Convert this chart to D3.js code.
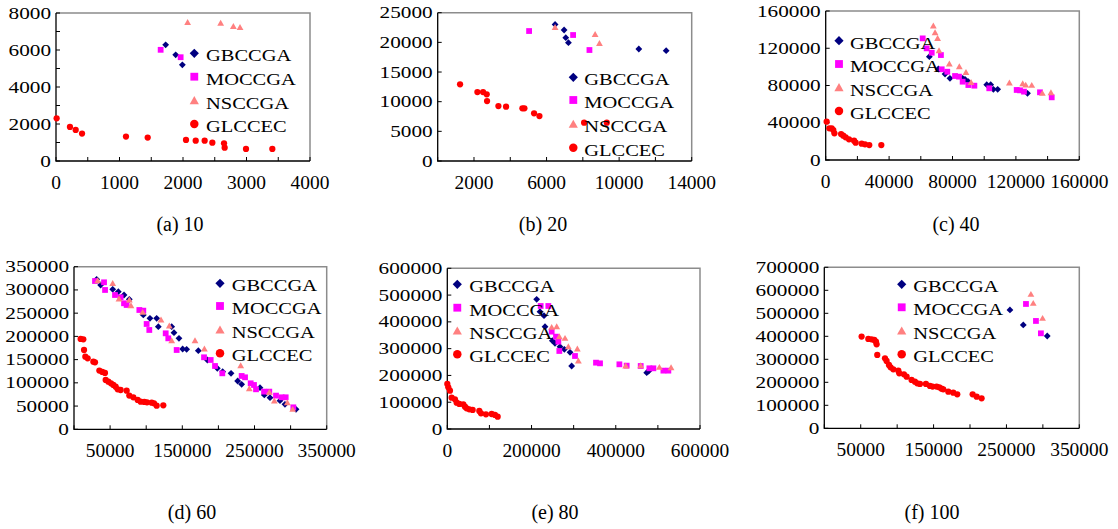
<!DOCTYPE html>
<html><head><meta charset="utf-8">
<script src="https://cdn.jsdelivr.net/npm/d3@7/dist/d3.min.js"></script>
<style>body{margin:0;background:#fff}svg{display:block}</style>
</head><body>
<svg id="chart" width="1118" height="529"></svg>
<script>
// ---------- DATA ----------
const seriesNames = ["GBCCGA","MOCCGA","NSCCGA","GLCCEC"];
const panelCaptions = ["(a) 10","(b) 20","(c) 40","(d) 60","(e) 80","(f) 100"];

// (a) 10
const a_GBCCGA = [[1727,6280],[1885,5740],[1990,5200]];
const a_MOCCGA = [[1648,6010],[1963,5610]];
const a_NSCCGA = [[2073,7490],[2593,7455],[2793,7274],[2898,7220]];
const a_GLCCEC = [[10,2310],[220,1840],[310,1680],[410,1480],[1102,1318],[1444,1264],[2047,1137],[2200,1101],[2341,1101],[2462,993],[2646,957],[2656,722],[2992,650],[3407,650]];
// (b) 20
const b_GBCCGA = [[6470,23030],[6967,22080],[7059,20790],[7206,19940],[11085,18880],[12592,18600]];
const b_MOCCGA = [[5037,21910],[7463,21240],[8364,18710]];
const b_NSCCGA = [[6470,22530],[8676,21350],[8915,19830]];
const b_GLCCEC = [[1232,12920],[2188,11630],[2500,11630],[2702,11240],[2720,10110],[3346,9270],[3768,9160],[4669,8880],[4779,8880],[5312,8030],[5607,7580],[8070,6460],[9320,6460]];
// (c) 40
const c_GBCCGA = [[65400,111000],[71100,97700],[75300,92300],[78400,87700],[86400,87700],[87900,86600],[90000,84100],[101600,80900],[104100,80900],[105800,75900],[108500,75900],[127300,71600]];
const c_MOCCGA = [[61200,130600],[63700,119900],[66900,115200],[72700,112700],[73200,97400],[76700,94800],[81600,90200],[84100,89500],[86400,84100],[90000,80500],[93800,79800],[103200,77000],[120500,75200],[122600,74800],[125100,73400],[135200,72700],[142600,67300]];
const c_NSCCGA = [[67900,143900],[69000,136700],[70600,130600],[71500,117400],[78000,103100],[84300,100200],[88500,94100],[91700,83400],[115900,82700],[124300,82000],[126200,80500],[130000,80200],[136700,71600],[142100,72300]];
const c_GLCCEC = [[600,41200],[2300,34000],[3800,34000],[4800,32200],[5500,28600],[9700,27900],[11100,26100],[12600,24300],[14700,22200],[17900,20800],[18900,18600],[22700,17500],[24800,16800],[27500,16100],[35100,16100]];
// (d) 60
const d_GBCCGA = [[31400,322800],[36900,310600],[53600,301300],[61400,296300],[69300,289100],[76600,279800],[96000,246100],[105200,238900],[114500,238900],[116800,221000],[135300,221000],[138500,208000],[145400,195800],[150500,172900],[156000,172200],[172200,169300],[184700,149200],[198500,131300],[205900,124100],[217500,120500],[226700,104000],[232200,96800],[257600,89700],[263600,73900],[271500,68100],[285300,61700],[292200,53800],[307500,43000]];
const d_MOCCGA = [[29100,319200],[41600,316400],[43000,299900],[56800,289100],[64600,284100],[69300,271200],[72900,267600],[90500,256800],[96000,255400],[100600,226700],[104300,213800],[127000,206600],[130600,195800],[142200,170700],[180100,155000],[189300,149200],[195300,136300],[205400,120500],[232200,114800],[236900,111900],[244700,99000],[249300,95400],[252100,86100],[263200,81100],[270500,81100],[279800,72500],[287600,68900],[293200,68900],[303800,47300]];
const d_NSCCGA = [[32800,319900],[53600,314200],[62300,280500],[76600,278300],[78900,266100],[95100,251800],[120500,235300],[132000,222400],[135300,190800],[167600,190800],[180600,172900],[230900,137000],[242800,87500],[270500,79600],[277500,61000],[295500,57400],[302900,43000]];
const d_GLCCEC = [[9200,194400],[12900,193700],[13900,170700],[15700,156400],[18900,152800],[26800,145600],[29100,144200],[35100,126300],[39200,123400],[42900,121200],[43900,106200],[47600,102600],[51200,99000],[54500,95400],[57700,91800],[60500,86100],[64600,84600],[72900,83200],[76600,72500],[82200,68900],[88200,63100],[92300,59500],[97400,58800],[101100,58100],[107600,57400],[110800,56000],[114500,50900],[123700,51600]];
// (e) 80
const e_GBCCGA = [[212200,484300],[220100,438200],[229600,423300],[232000,382200],[249400,329900],[255700,319900],[267600,307500],[277900,297500],[291400,286300],[295300,235300],[473500,210400],[478000,216000]];
const e_MOCCGA = [[221700,459300],[239900,459300],[247800,363500],[258100,344800],[263700,326200],[266000,291300],[303200,272600],[353100,247700],[362600,245200],[408600,241500],[425900,236500],[459200,235300],[479800,226600],[489300,226600],[513100,217900],[524900,217900]];
const e_NSCCGA = [[247800,379700],[259700,382200],[266000,344800],[279500,338600],[287400,307500],[308800,298800],[311200,254000],[423600,235300],[459200,236500],[503600,230300],[531300,229100]];
const e_GLCCEC = [[0,168100],[2400,155600],[6300,143200],[10300,117000],[18200,110800],[22200,98300],[28500,93400],[38000,92100],[42000,83400],[45900,77200],[52300,73400],[60200,71000],[76000,67200],[80000,58500],[91800,54800],[105300,56000],[113200,52300],[119600,46100]];
// (f) 100
const f_GBCCGA = [[254800,514500],[273100,449300],[306000,401400]];
const f_MOCCGA = [[276800,540600],[290500,466700],[297300,413000]];
const f_NSCCGA = [[283600,582600],[286800,543500],[299600,478300]];
const f_GLCCEC = [[51200,398600],[60400,388400],[64900,387000],[68600,384100],[70900,376800],[71800,365200],[72700,318800],[83300,304300],[85500,292800],[88700,275400],[91000,265200],[94700,256500],[101600,250700],[102900,239100],[109300,234800],[113000,224600],[119800,210100],[124400,202900],[127600,195700],[131300,192800],[139500,192800],[145000,184100],[148700,181200],[154200,181200],[157800,178300],[161000,172500],[163300,169600],[170200,159400],[177000,155100],[182500,147800],[203600,147800],[209100,137700],[215900,130400]];

// tick labels / ticks
const a_xLabels = [0,1000,2000,3000,4000], a_xTicks = d3.range(0,4001,500);
const a_yLabels = [0,2000,4000,6000,8000], a_yTicks = d3.range(0,8001,1000);
const b_xLabels = [2000,6000,10000,14000], b_xTicks = d3.range(0,14001,2000);
const b_yLabels = [0,5000,10000,15000,20000,25000], b_yTicks = b_yLabels;
const c_xLabels = [0,40000,80000,120000,160000], c_xTicks = d3.range(0,160001,20000);
const c_yLabels = [0,40000,80000,120000,160000], c_yTicks = c_yLabels;
const d_xLabels = [50000,150000,250000,350000], d_xTicks = d3.range(0,350001,50000);
const d_yLabels = d3.range(0,350001,50000), d_yTicks = d_yLabels;
const e_xLabels = [0,200000,400000,600000], e_xTicks = d3.range(0,600001,100000);
const e_yLabels = d3.range(0,600001,100000), e_yTicks = e_yLabels;
const f_xLabels = [50000,150000,250000,350000], f_xTicks = d3.range(0,350001,50000);
const f_yLabels = d3.range(0,700001,100000), f_yTicks = f_yLabels;

// ---------- LAYOUT ----------
const colors = {GBCCGA:"#000080", MOCCGA:"#ff00ff", NSCCGA:"#ff8080", GLCCEC:"#ff0000"};
const shapes = {GBCCGA:"diamond", MOCCGA:"square", NSCCGA:"triangle", GLCCEC:"circle"};

const panels = [
 {series:[a_GBCCGA,a_MOCCGA,a_NSCCGA,a_GLCCEC], xmax:4000, ymax:8000, xl:a_xLabels, xt:a_xTicks, yl:a_yLabels, yt:a_yTicks,
  L:56,R:310,T:13,B:161, leg:{mx:194.3, tx:206, rows:[53.3,76.7,100.7,124]}, cap:[180,231]},
 {series:[b_GBCCGA,b_MOCCGA,b_NSCCGA,b_GLCCEC], xmax:14000, ymax:25000, xl:b_xLabels, xt:b_xTicks, yl:b_yLabels, yt:b_yTicks,
  L:437.7,R:691.7,T:12.7,B:161, leg:{mx:573.3, tx:584.3, rows:[77.3,100,124.3,147.7]}, cap:[543,231]},
 {series:[c_GBCCGA,c_MOCCGA,c_NSCCGA,c_GLCCEC], xmax:160000, ymax:160000, xl:c_xLabels, xt:c_xTicks, yl:c_yLabels, yt:c_yTicks,
  L:825.7,R:1079.3,T:11,B:160, leg:{mx:839, tx:850, rows:[40.7,64,87.7,111]}, cap:[956,231]},
 {series:[d_GBCCGA,d_MOCCGA,d_NSCCGA,d_GLCCEC], xmax:350000, ymax:350000, xl:d_xLabels, xt:d_xTicks, yl:d_yLabels, yt:d_yTicks,
  L:74,R:326.7,T:266.7,B:429.3, leg:{mx:220, tx:231.7, rows:[283.3,306,330,353.3]}, cap:[192,519]},
 {series:[e_GBCCGA,e_MOCCGA,e_NSCCGA,e_GLCCEC], xmax:600000, ymax:600000, xl:e_xLabels, xt:e_xTicks, yl:e_yLabels, yt:e_yTicks,
  L:447.3,R:700,T:268.3,B:429, leg:{mx:457.3, tx:469.3, rows:[284.3,307.7,331,354.3]}, cap:[555,519]},
 {series:[f_GBCCGA,f_MOCCGA,f_NSCCGA,f_GLCCEC], xmax:350000, ymax:700000, xl:f_xLabels, xt:f_xTicks, yl:f_yLabels, yt:f_yTicks,
  L:824.3,R:1079.3,T:267.3,B:428.3, leg:{mx:901.7, tx:913.3, rows:[284.3,307.3,331,354.3]}, cap:[932,519]}
];

function shapePath(kind, s){
  if(kind==="diamond") return `M0,${-s}L${s},0L0,${s}L${-s},0Z`;
  if(kind==="square") return `M${-s*0.85},${-s*0.85}H${s*0.85}V${s*0.85}H${-s*0.85}Z`;
  if(kind==="triangle") return `M0,${-s}L${s},${s*0.75}L${-s},${s*0.75}Z`;
  return d3.arc()({innerRadius:0, outerRadius:s*0.92, startAngle:0, endAngle:2*Math.PI});
}

const svg = d3.select("#chart");
const FONT = "'Liberation Serif','Times New Roman',serif";

panels.forEach((p,pi)=>{
  const x = d3.scaleLinear().domain([0,p.xmax]).range([p.L,p.R]);
  const y = d3.scaleLinear().domain([0,p.ymax]).range([p.B,p.T]);
  const g = svg.append("g");

  // frame (grey top/right)
  g.append("path").attr("d",`M${p.L},${p.T}H${p.R}V${p.B}`).attr("fill","none").attr("stroke","#8c8c8c").attr("stroke-width",1.5);

  // x axis ticks (inward)
  g.selectAll(".xt").data(p.xt).join("line")
    .attr("x1",d=>x(d)).attr("x2",d=>x(d)).attr("y1",p.B).attr("y2",p.B-4)
    .attr("stroke","#000").attr("stroke-width",1);
  // y axis ticks (inward)
  g.selectAll(".yt").data(p.yt).join("line")
    .attr("x1",p.L).attr("x2",p.L+4).attr("y1",d=>y(d)).attr("y2",d=>y(d))
    .attr("stroke","#000").attr("stroke-width",1);
  // axis lines
  g.append("path").attr("d",`M${p.L},${p.T}V${p.B}H${p.R}`).attr("fill","none").attr("stroke","#000").attr("stroke-width",1.3);

  // x labels
  g.selectAll(".xl").data(p.xl).join("text")
    .attr("transform",d=>`translate(${x(d)},${p.B+28}) scale(1.08,1)`)
    .attr("text-anchor","middle").attr("font-family",FONT).attr("font-size",18).attr("fill","#000")
    .text(d=>d);
  // y labels
  g.selectAll(".yl").data(p.yl).join("text")
    .attr("transform",d=>`translate(${p.L-5},${y(d)+5.5}) scale(1.25,1)`)
    .attr("text-anchor","end").attr("font-family",FONT).attr("font-size",17).attr("fill","#000")
    .text(d=>d);

  // points
  p.series.forEach((data,si)=>{
    const name = seriesNames[si];
    g.append("g").selectAll("path").data(data).join("path")
      .attr("transform",d=>`translate(${x(d[0])},${y(d[1])})`)
      .attr("d",shapePath(shapes[name], 3.4))
      .attr("fill",colors[name]);
  });

  // legend
  seriesNames.forEach((name,si)=>{
    const ry = p.leg.rows[si];
    g.append("path").attr("transform",`translate(${p.leg.mx},${ry})`)
      .attr("d",shapePath(shapes[name],4.6)).attr("fill",colors[name]);
    g.append("text").attr("transform",`translate(${p.leg.tx},${ry+8}) scale(1.17,1)`)
      .attr("font-family",FONT).attr("font-size",17.5).attr("fill","#000").text(name);
  });

  // caption
  svg.append("text").attr("x",p.cap[0]).attr("y",p.cap[1]).attr("text-anchor","middle")
    .attr("font-family",FONT).attr("font-size",20).attr("fill","#000").text(panelCaptions[pi]);
});
</script>
</body></html>
